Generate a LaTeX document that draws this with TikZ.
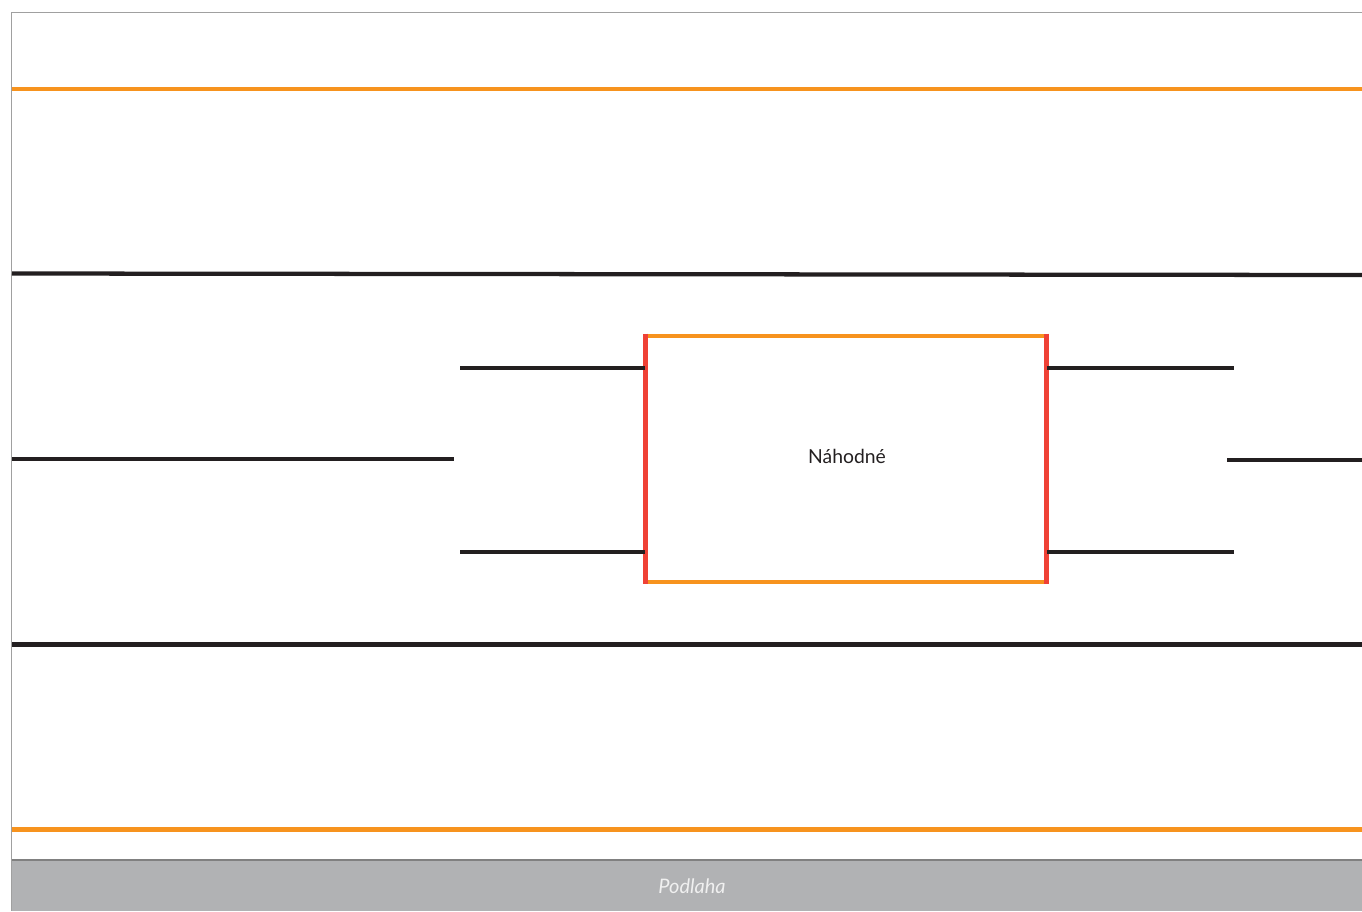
\documentclass[tikz,border=0pt]{standalone}
\usepackage{fontspec}
\setmainfont{Lato}
\usetikzlibrary{positioning}
\definecolor{lineorange}{HTML}{F7931E}
\definecolor{linered}{HTML}{EF4136}
\definecolor{lineblack}{HTML}{231F20}
\definecolor{floorgray}{HTML}{B1B2B4}
\definecolor{framegray}{HTML}{A0A0A0}
\tikzstyle{rail} = [line width=3.2pt, draw=lineorange]
\tikzstyle{wall} = [line width=3.2pt, draw=lineblack]
\tikzstyle{post} = [line width=3.75pt, draw=linered]
\tikzstyle{room} = [rectangle, minimum width=300.75pt, minimum height=184.5pt, inner sep=0pt, text centered, text=lineblack]

\begin{document}
\begin{tikzpicture}[x=0.75pt, y=-0.75pt]
        \useasboundingbox (0,0) rectangle (1362,911);
        % frame and floor
        \fill [floorgray] (11.5,860) rectangle (1362,911);
        \draw [framegray, line width=0.75pt] (1362,12) -- (11.5,12) -- (11.5,911);
        \draw [gray, line width=1.2pt] (11.5,860) -- (1362,860);
        \node (floor) at (692,886) [text=white!94!black, font=\itshape\fontsize{15}{17}\selectfont] {Podlaha};
        % long lines
        \draw [rail] (12,89) -- (1362,89);
        \draw [wall] (12,273.5) -- (1362,275);
        \draw [wall] (12,644.5) -- (1362,644.5);
        \draw [rail] (12,829.5) -- (1362,829.5);
        % box
        \node (box) [room] at (846,459) {};
        \node (label) at (847,456) [text=lineblack, font=\fontsize{14.5}{17}\selectfont] {Náhodné};
        \draw [rail] (box.north west) -- (box.north east);
        \draw [rail] (box.south west) -- (box.south east);
        \draw [post] ([yshift=1.5pt]box.north west) -- ([yshift=-1.5pt]box.south west);
        \draw [post] ([yshift=1.5pt]box.north east) -- ([yshift=-1.5pt]box.south east);
        % stubs
        \coordinate (lu) at (460,368);
        \coordinate (ld) at (460,552);
        \coordinate (ru) at (1234,368);
        \coordinate (rd) at (1234,552);
        \draw [wall] (lu) -- (lu -| box.west);
        \draw [wall] (ld) -- (ld -| box.west);
        \draw [wall] (ru -| box.east) -- (ru);
        \draw [wall] (rd -| box.east) -- (rd);
        \coordinate (lm) at (12,459);
        \coordinate (rm) at (1362,460);
        \draw [wall] (lm) -- (454,459);
        \draw [wall] (1227,460) -- (rm);
    \end{tikzpicture}
\end{document}
